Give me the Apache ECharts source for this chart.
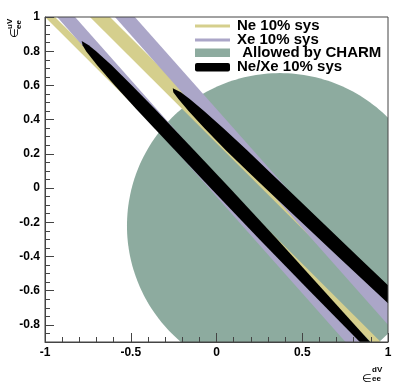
<!DOCTYPE html>
<html><head><meta charset="utf-8">
<script src="https://cdn.jsdelivr.net/npm/echarts@6/dist/echarts.min.js"></script>
<style>html,body{margin:0;padding:0;background:#fff}#c{width:411px;height:388px}</style>
</head><body><div id="c"></div>
<script>
// ---- axes ----
const xTickValues = [-1, -0.5, 0, 0.5, 1];
const xTickLabels = ['-1', '-0.5', '0', '0.5', '1'];
const yTickValues = [-0.8, -0.6, -0.4, -0.2, 0, 0.2, 0.4, 0.6, 0.8, 1];
const yTickLabels = ['-0.8', '-0.6', '-0.4', '-0.2', '0', '0.2', '0.4', '0.6', '0.8', '1'];
const yMinorTickValues = [-0.85, -0.75, -0.7, -0.65, -0.55, -0.5, -0.45, -0.35, -0.3, -0.25, -0.15, -0.1, -0.05,
  0.05, 0.1, 0.15, 0.25, 0.3, 0.35, 0.45, 0.5, 0.55, 0.65, 0.7, 0.75, 0.85, 0.9, 0.95];

// ---- series names (legend) ----
const seriesNames = ['Ne 10% sys', 'Xe 10% sys', ' Allowed by CHARM', 'Ne/Xe 10% sys'];

// ---- Ne bands: region c_low <= y + k*x <= c_high ----
const neBandLow = [0.000, 0.262];
const neBandHigh = [0.058, 0.379];
const neSlope = 1.0;

// ---- Xe bands ----
const xeBandLow = [-0.050, 0.331];
const xeBandHigh = [0.068, 0.462];
const xeSlope = 1.13;

// ---- CHARM allowed disc ----
const charmCenter = [0.37, -0.22];
const charmRadius = 0.892;

// ---- Ne/Xe combined regions: centre-line x, y and half width (along x) ----
const neXeAY = [0.859, 0.835, 0.80, 0.72, 0.60, 0.456, 0.2, 0.0, -0.3, -0.6, -0.9, -1.0];
const neXeAX = [-0.786, -0.763, -0.731, -0.655, -0.543, -0.408, -0.167, 0.021, 0.302, 0.584, 0.866, 0.96];
const neXeAW = [0, 0.018, 0.029, 0.042, 0.050, 0.055, 0.056, 0.056, 0.052, 0.042, 0.030, 0.025];

const neXeBY = [0.584, 0.56, 0.52, 0.45, 0.35, 0.22, 0.10, 0.0, -0.2, -0.4, -0.6, -0.8];
const neXeBX = [-0.255, -0.230, -0.189, -0.118, -0.015, 0.118, 0.242, 0.346, 0.556, 0.766, 0.978, 1.19];
const neXeBW = [0, 0.022, 0.033, 0.045, 0.055, 0.062, 0.062, 0.062, 0.06, 0.058, 0.056, 0.055];

const neColor = '#d5cf8d';
const xeColor = '#aba6c8';
const charmColor = '#8dab9f';
const comboColor = '#000000';
const axisColor = '#444';

function contourFrom(xs, ys, ws) {
  const right = xs.map((x, i) => [x + ws[i], ys[i]]);
  const left = xs.map((x, i) => [x - ws[i], ys[i]]).reverse();
  return right.concat(left);
}
const neXeContours = [contourFrom(neXeAX, neXeAY, neXeAW), contourFrom(neXeBX, neXeBY, neXeBW)];

// polygon clipping to the plot rectangle (pixel space)
function clipEdge(pts, inside, cut) {
  const out = [];
  for (let i = 0; i < pts.length; i++) {
    const cur = pts[i], prev = pts[(i + pts.length - 1) % pts.length];
    const cin = inside(cur), pin = inside(prev);
    if (cin) { if (!pin) out.push(cut(prev, cur)); out.push(cur); }
    else if (pin) out.push(cut(prev, cur));
  }
  return out;
}
function clipToGrid(pts, cs) {
  const x0 = cs.x, y0 = cs.y, x1 = cs.x + cs.width, y1 = cs.y + cs.height;
  const ix = (a, b, x) => [x, a[1] + (b[1] - a[1]) * (x - a[0]) / (b[0] - a[0])];
  const iy = (a, b, y) => [a[0] + (b[0] - a[0]) * (y - a[1]) / (b[1] - a[1]), y];
  pts = clipEdge(pts, p => p[0] >= x0, (a, b) => ix(a, b, x0));
  pts = clipEdge(pts, p => p[0] <= x1, (a, b) => ix(a, b, x1));
  pts = clipEdge(pts, p => p[1] >= y0, (a, b) => iy(a, b, y0));
  pts = clipEdge(pts, p => p[1] <= y1, (a, b) => iy(a, b, y1));
  return pts;
}
function poly(params, pts, color) {
  return { type: 'polygon', shape: { points: clipToGrid(pts, params.coordSys) }, style: { fill: color } };
}

function bandRender(color) {
  return function (params, api) {
    const lo = api.value(0), hi = api.value(1), k = api.value(2);
    const yT = 2, yB = -2;
    const pts = [[(lo - yT) / k, yT], [(hi - yT) / k, yT], [(hi - yB) / k, yB], [(lo - yB) / k, yB]]
      .map(p => api.coord(p));
    return poly(params, pts, color);
  };
}

const chart = echarts.init(document.getElementById('c'), null, { renderer: 'canvas' });
const labelFont = { fontFamily: 'Liberation Sans', fontWeight: 'bold', fontSize: 12, color: '#000' };

const option = {
  animation: false,
  textStyle: { fontFamily: 'Liberation Sans' },
  grid: { left: 45, right: 23, top: 17, bottom: 46, show: true, borderColor: axisColor, borderWidth: 1, backgroundColor: 'transparent', z: 10 },
  xAxis: {
    type: 'value', min: -1, max: 1, interval: 0.5, z: 10,
    axisLine: { show: true, onZero: false, lineStyle: { color: axisColor, width: 1 } },
    axisTick: { show: true, inside: true, length: 9, lineStyle: { color: axisColor } },
    minorTick: { show: true, splitNumber: 5, length: 5, lineStyle: { color: axisColor } },
    splitLine: { show: false }, minorSplitLine: { show: false },
    axisLabel: Object.assign({ margin: 5, formatter: v => { const i = xTickValues.findIndex(t => Math.abs(t - v) < 1e-9); return i >= 0 ? xTickLabels[i] : ''; } }, labelFont)
  },
  yAxis: [{
    type: 'value', min: -0.9, max: 1, position: 'left', z: 10,
    axisLine: { show: true, onZero: false, lineStyle: { color: axisColor, width: 1 } },
    axisTick: { show: true, inside: true, length: 9, customValues: yTickValues, lineStyle: { color: axisColor } },
    splitLine: { show: false },
    axisLabel: Object.assign({ margin: 5, customValues: yTickValues, formatter: v => { const i = yTickValues.findIndex(t => Math.abs(t - v) < 1e-9); return i >= 0 ? yTickLabels[i] : ''; } }, labelFont)
  }, {
    type: 'value', min: -0.9, max: 1, position: 'left', z: 10,
    axisLine: { show: false, onZero: false },
    axisTick: { show: true, inside: true, length: 5, customValues: yMinorTickValues, lineStyle: { color: axisColor } },
    splitLine: { show: false },
    axisLabel: { show: false }
  }],
  series: [
    {
      name: seriesNames[2], type: 'custom', silent: true,
      data: [[charmCenter[0], charmCenter[1], charmRadius]],
      renderItem: (params, api) => {
        const cx = api.value(0), cy = api.value(1), r = api.value(2);
        const pts = [];
        for (let i = 0; i < 240; i++) {
          const t = i * Math.PI * 2 / 240;
          pts.push(api.coord([cx + r * Math.cos(t), cy + r * Math.sin(t)]));
        }
        return poly(params, pts, charmColor);
      }
    },
    {
      name: seriesNames[0], type: 'custom', silent: true,
      data: neBandLow.map((c, i) => [c, neBandHigh[i], neSlope]),
      renderItem: bandRender(neColor)
    },
    {
      name: seriesNames[1], type: 'custom', silent: true,
      data: xeBandLow.map((c, i) => [c, xeBandHigh[i], xeSlope]),
      renderItem: bandRender(xeColor)
    },
    {
      name: seriesNames[3], type: 'custom', silent: true,
      data: neXeContours.map((c, i) => [i, 0]),
      renderItem: (params, api) => poly(params, neXeContours[params.dataIndex].map(p => api.coord(p)), comboColor)
    }
  ],
  graphic: [
    // legend
    { type: 'rect', shape: { x: 195, y: 24.5, width: 35, height: 3 }, style: { fill: neColor } },
    { type: 'rect', shape: { x: 195, y: 38.5, width: 35, height: 3 }, style: { fill: xeColor } },
    { type: 'rect', shape: { x: 195, y: 48.5, width: 35, height: 8.5 }, style: { fill: charmColor } },
    { type: 'rect', shape: { x: 195, y: 63, width: 35, height: 8.5, r: 2 }, style: { fill: comboColor } },
    { type: 'text', x: 237, y: 26, style: { text: seriesNames[0], font: 'bold 15px "Liberation Sans"', textVerticalAlign: 'middle', fill: '#000' } },
    { type: 'text', x: 237, y: 40, style: { text: seriesNames[1], font: 'bold 15px "Liberation Sans"', textVerticalAlign: 'middle', fill: '#000' } },
    { type: 'text', x: 238, y: 53.3, style: { text: seriesNames[2], font: 'bold 15px "Liberation Sans"', textVerticalAlign: 'middle', fill: '#000' } },
    { type: 'text', x: 237, y: 66.5, style: { text: seriesNames[3], font: 'bold 15px "Liberation Sans"', textVerticalAlign: 'middle', fill: '#000' } },
    // x axis title
    { type: 'text', x: 362, y: 379, style: { text: '\u2208', font: '11px "DejaVu Sans"', textVerticalAlign: 'middle', fill: '#000' } },
    { type: 'text', x: 372, y: 373.5, style: { text: 'dV', font: 'bold 8px "Liberation Sans"', textVerticalAlign: 'bottom', fill: '#000' } },
    { type: 'text', x: 372, y: 375, style: { text: 'ee', font: 'bold 8px "Liberation Sans"', textVerticalAlign: 'top', fill: '#000' } },
    // y axis title (rotated)
    { type: 'group', x: 15, y: 38, rotation: Math.PI / 2, children: [
      { type: 'text', x: 0, y: 0, style: { text: '\u2208', font: '11px "DejaVu Sans"', textVerticalAlign: 'middle', fill: '#000' } },
      { type: 'text', x: 9, y: -1.5, style: { text: 'uV', font: 'bold 8px "Liberation Sans"', textVerticalAlign: 'bottom', fill: '#000' } },
      { type: 'text', x: 9, y: 0, style: { text: 'ee', font: 'bold 8px "Liberation Sans"', textVerticalAlign: 'top', fill: '#000' } }
    ] }
  ]
};
chart.setOption(option);
</script></body></html>
